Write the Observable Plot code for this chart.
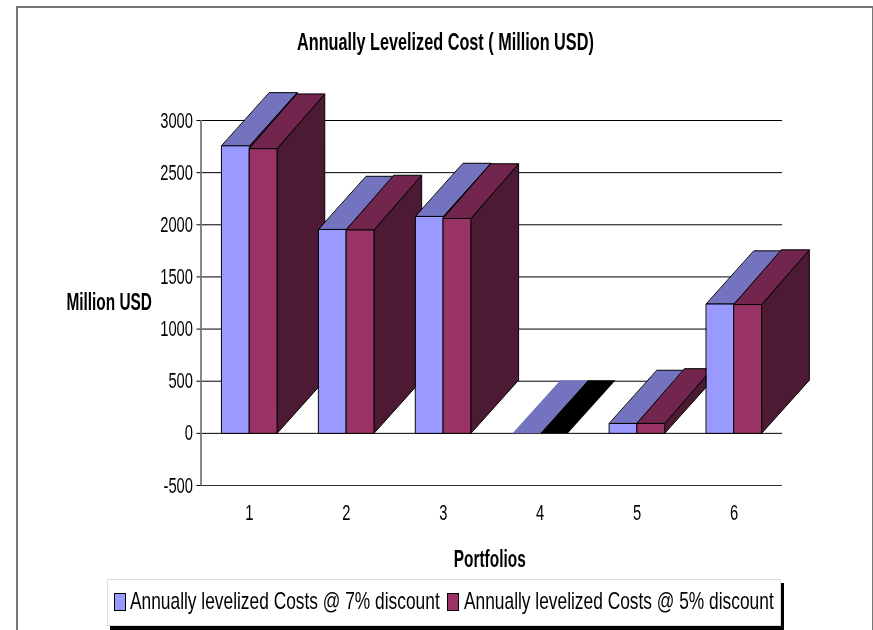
<!DOCTYPE html>
<html><head><meta charset="utf-8">
<script src="https://cdn.jsdelivr.net/npm/d3@7"></script>
<script src="https://cdn.jsdelivr.net/npm/@observablehq/plot@0.6"></script>
<style>
html,body{margin:0;padding:0;background:#fff;overflow:hidden;width:873px;height:630px}
body{position:relative;font-family:"Liberation Sans",Arial,sans-serif;color:#000}
#frame{position:absolute;left:16px;top:6px;width:854px;height:640px;border:2px solid #777;box-sizing:content-box}
#chart{position:absolute;left:0;top:0;filter:blur(.35px)}
#chart svg{display:block;background:transparent}
#title{position:absolute;left:297px;top:27px;font-weight:bold;font-size:24px;line-height:30px;white-space:nowrap;transform-origin:0 0;filter:blur(.35px)}
#legend{position:absolute;left:107px;top:579px;width:672px;height:45px;background:#fff;border:1px solid #ddd;box-shadow:3px 4px 0 #000;font-size:24px}
.sw{position:absolute;top:13px;width:10px;height:16px;border:1px solid #000}
.lt{position:absolute;top:6px;line-height:30px;white-space:nowrap;transform-origin:0 0;filter:blur(.35px)}
</style></head><body>
<div id="frame"></div>
<div id="chart"></div>
<div id="title"></div>
<div id="legend"></div>
<script>
const titleText = "Annually Levelized Cost ( Million USD)";
const xLabel = "Portfolios";
const yLabel = "Million USD";
const portfolios = [1, 2, 3, 4, 5, 6];
const yTicks = [-500, 0, 500, 1000, 1500, 2000, 2500, 3000];
const seriesNames = ["Annually levelized Costs @ 7% discount", "Annually levelized Costs @ 5% discount"];
const costs7 = [2757, 1955, 2080, 0, 95, 1240];
const costs5 = [2730, 1950, 2060, 0, 95, 1235];
const frontColors = ["#9999ff", "#993366"];
const topColors = ["#7373bf", "#73264d"];
const sideColors = ["#4d1a33", "#4d1a33"];
const zeroTopColors = ["#7373bf", "#000000"];
const barWidth = 0.285;        // x units
const depthX = 0.492;          // x units
const floorDepthY = 510;       // y units
const topDepthY = [510, 525];  // y units, by series

function squeeze(el, width) {
  el.style.transform = "scaleX(" + (width / el.offsetWidth) + ")";
}
const titleEl = document.getElementById("title");
titleEl.textContent = titleText;
squeeze(titleEl, 297);

const polys = [];
let id = 0;
function poly(points, fill, stroke) {
  id++;
  points.forEach(([x, y]) => polys.push({x, y, id, fill, stroke}));
}
portfolios.forEach((p, i) => {
  [costs7[i], costs5[i]].forEach((v, s) => {
    const x0 = p - barWidth + s * barWidth, x1 = x0 + barWidth;
    const zero = v === 0;
    const edge = zero ? "none" : "#000";
    const dTop = zero ? floorDepthY : topDepthY[s];
    if (!zero) poly([[x1, 0], [x1 + depthX, floorDepthY], [x1 + depthX, v + dTop], [x1, v]], sideColors[s], edge);
    poly([[x0, v], [x1, v], [x1 + depthX, v + dTop], [x0 + depthX, v + dTop]], zero ? zeroTopColors[s] : topColors[s], edge);
    if (!zero) poly([[x0, 0], [x1, 0], [x1, v], [x0, v]], frontColors[s], edge);
  });
});

const chart = Plot.plot({
  width: 873, height: 630,
  marginLeft: 200.5, marginRight: 91, marginTop: 120, marginBottom: 145,
  style: {fontFamily: '"Liberation Sans",Arial,sans-serif', background: "transparent"},
  x: {domain: [0.5, 6.5], label: null},
  y: {domain: [-500, 3000], label: null},
  marks: [
    Plot.ruleY(yTicks.filter(t => t !== -500), {stroke: "#000", strokeWidth: 1}),
    Plot.ruleY([-500], {stroke: "#333", strokeWidth: 1}),
    Plot.ruleX([0.5], {stroke: "#888", strokeWidth: 2}),
    Plot.axisY({ticks: yTicks, tickFormat: d => String(d), tickSize: 4, tickPadding: 4, fontSize: 22, stroke: "#000", color: "#000"}),
    Plot.axisX({ticks: portfolios, tickFormat: d => String(d), tickSize: 0, tickPadding: 19, fontSize: 22, color: "#000", anchor: "bottom"}),
    Plot.line(polys, {
      x: "x", y: "y", z: "id",
      fill: {value: d => d.fill, scale: null},
      stroke: {value: d => d.stroke, scale: null},
      strokeWidth: 1, curve: "linear-closed"
    }),
    Plot.text([yLabel], {frameAnchor: "left", dx: -49, textAnchor: "end", fontWeight: "bold", fontSize: 23, fill: "#000"}),
    Plot.text([xLabel], {frameAnchor: "bottom", dy: 81, dx: -2, fontWeight: "bold", fontSize: 23, fill: "#000"})
  ]
});
document.getElementById("chart").appendChild(chart);

// condense all SVG text to the narrow proportions of the picture
chart.querySelectorAll("text").forEach(t => {
  const w = t.getComputedTextLength();
  t.setAttribute("lengthAdjust", "spacingAndGlyphs");
  t.setAttribute("textLength", (w * 0.67).toFixed(1));
});

const legend = document.getElementById("legend");
[[6, 22], [339, 356]].forEach(([swx, tx], s) => {
  const sw = document.createElement("div");
  sw.className = "sw";
  sw.style.left = swx + "px";
  sw.style.background = frontColors[s];
  legend.appendChild(sw);
  const t = document.createElement("div");
  t.className = "lt";
  t.style.left = tx + "px";
  t.textContent = seriesNames[s];
  legend.appendChild(t);
  squeeze(t, 310);
});
</script>
</body></html>
